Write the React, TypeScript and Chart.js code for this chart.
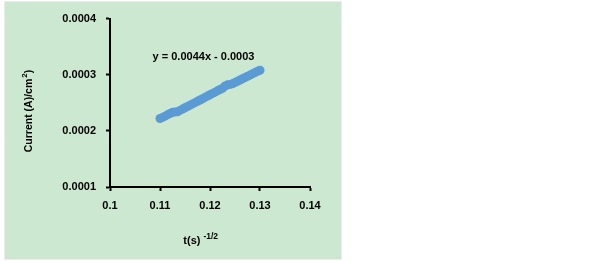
import React, { useEffect, useRef } from "react";
import { Chart, registerables } from "chart.js";

Chart.register(...registerables);

const xValues = [
  0.11, 0.1105, 0.111, 0.1115, 0.112, 0.1125, 0.113, 0.1135, 0.114, 0.1145,
  0.115, 0.1155, 0.116, 0.1165, 0.117, 0.1175, 0.118, 0.1185, 0.119, 0.1195,
  0.12, 0.1205, 0.121, 0.1215, 0.122, 0.1225, 0.123, 0.1235, 0.124, 0.1245,
  0.125, 0.1255, 0.126, 0.1265, 0.127, 0.1275, 0.128, 0.1285, 0.129, 0.1295,
  0.13,
];
const yValues = [
  0.000222, 0.000224, 0.0002262, 0.0002285, 0.000231, 0.000233, 0.0002335, 0.000234, 0.0002365, 0.0002388,
  0.0002412, 0.0002435, 0.0002458, 0.000248, 0.0002503, 0.0002527, 0.000255, 0.0002573, 0.0002597, 0.000262,
  0.0002643, 0.0002667, 0.000269, 0.0002713, 0.0002737, 0.000276, 0.00028, 0.000282, 0.0002828, 0.000284,
  0.0002862, 0.0002884, 0.0002906, 0.0002928, 0.000295, 0.0002972, 0.0002994, 0.0003016, 0.0003038, 0.000306,
  0.000308,
];
const xTickLabels = ["0.1", "0.11", "0.12", "0.13", "0.14"];
const yTickLabels = ["0.0001", "0.0002", "0.0003", "0.0004"];
const equationText = "y = 0.0044x - 0.0003";
const xTitleMain = "t(s)";
const xTitleSup = "-1/2";
const yTitleMain = "Current (A)/cm";
const yTitleSup = "2";
const yTitleEnd = ")";

const FONT = "'Liberation Sans', Arial, sans-serif";

const textPlugin = {
  id: "texts",
  afterDraw(chart: any) {
    const ctx = chart.ctx as CanvasRenderingContext2D;
    ctx.save();
    ctx.fillStyle = "#000";
    ctx.textBaseline = "middle";
    // equation
    ctx.font = `bold 11px ${FONT}`;
    ctx.textAlign = "center";
    ctx.fillText(equationText, 198.5, 55);
    // x title
    ctx.textAlign = "left";
    ctx.font = `bold 11px ${FONT}`;
    let x = 178.3;
    ctx.fillText(xTitleMain, x, 239);
    x += ctx.measureText(xTitleMain).width + 3;
    ctx.font = `bold 8.5px ${FONT}`;
    ctx.fillText(xTitleSup, x, 235);
    // y title (rotated)
    ctx.translate(24, 109);
    ctx.rotate(-Math.PI / 2);
    ctx.font = `bold 10.5px ${FONT}`;
    const w1 = ctx.measureText(yTitleMain).width;
    ctx.font = `bold 8px ${FONT}`;
    const w2 = ctx.measureText(yTitleSup).width;
    ctx.font = `bold 10.5px ${FONT}`;
    const w3 = ctx.measureText(yTitleEnd).width;
    const total = w1 + 1 + w2 + w3;
    let p = -total / 2;
    ctx.fillText(yTitleMain, p, 0);
    p += w1 + 1;
    ctx.font = `bold 8px ${FONT}`;
    ctx.fillText(yTitleSup, p, -4);
    p += w2;
    ctx.font = `bold 10.5px ${FONT}`;
    ctx.fillText(yTitleEnd, p, 0);
    ctx.restore();
  },
};

export default function App() {
  const ref = useRef<HTMLCanvasElement | null>(null);
  useEffect(() => {
    if (!ref.current) return;
    const tickFont = { family: FONT, size: 11, weight: "bold" as const };
    const chart = new Chart(ref.current, {
      type: "scatter",
      data: {
        datasets: [
          {
            data: xValues.map((xv, i) => ({ x: xv, y: yValues[i] })),
            backgroundColor: "#5B9BD5",
            borderColor: "#5B9BD5",
            borderWidth: 0,
            pointRadius: 4.5,
            showLine: false,
          },
        ],
      },
      options: {
        responsive: false,
        animation: false,
        layout: { padding: { left: 0, top: 16, right: 31, bottom: 0 } },
        plugins: { legend: { display: false }, tooltip: { enabled: false } },
        scales: {
          x: {
            type: "linear",
            min: 0.1,
            max: 0.14,
            ticks: {
              stepSize: 0.01,
              autoSkip: false,
              maxRotation: 0,
              color: "#000",
              font: tickFont,
              padding: 8,
              callback: (_v: any, i: number) => xTickLabels[i],
            },
            grid: { drawOnChartArea: false, drawTicks: true, tickLength: 4, tickColor: "#000", tickWidth: 2 },
            border: { display: true, color: "#000", width: 2 },
            afterFit: (s: any) => {
              s.height = 72;
            },
          },
          y: {
            type: "linear",
            min: 0.0001,
            max: 0.0004,
            ticks: {
              stepSize: 0.0001,
              autoSkip: false,
              color: "#000",
              font: tickFont,
              padding: 10,
              callback: (_v: any, i: number) => yTickLabels[i],
            },
            grid: { drawOnChartArea: false, drawTicks: true, tickLength: 4, tickColor: "#000", tickWidth: 2 },
            border: { display: true, color: "#000", width: 2 },
            afterFit: (s: any) => {
              s.width = 105;
            },
          },
        },
      },
      plugins: [textPlugin],
    });
    return () => chart.destroy();
  }, []);

  return (
    <div style={{ position: "fixed", left: 0, top: 0, width: 605, height: 262, background: "#fff" }}>
      <div
        style={{
          position: "absolute",
          left: 4,
          top: 1,
          width: 338,
          height: 259,
          background: "#ececec",
        }}
      />
      <canvas
        ref={ref}
        width={336}
        height={257}
        style={{ position: "absolute", left: 5, top: 2, width: 336, height: 257, background: "#CDE8D0" }}
      />
    </div>
  );
}
